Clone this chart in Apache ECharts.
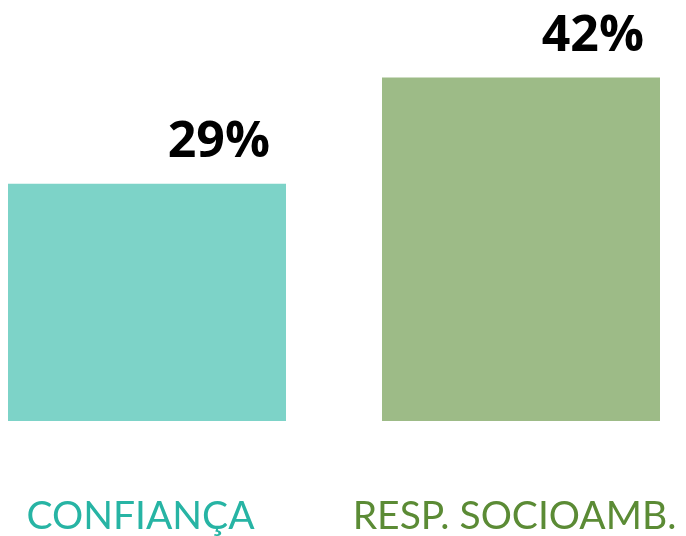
<!DOCTYPE html>
<html>
<head>
<meta charset="utf-8">
<script src="https://cdn.jsdelivr.net/npm/echarts@6/dist/echarts.min.js"></script>
<style>
html,body{margin:0;padding:0;background:#fff;}
#chart{width:686px;height:536px;}
</style>
</head>
<body>
<div id="chart"></div>
<script>
var categories = ['CONFIANÇA', 'RESP. SOCIOAMB.'];
var values = [29, 42];
var barColors = ['#7dd3c8', '#9dbb87'];
var labelColors = ['#27b4a4', '#5b8b35'];

var chart = echarts.init(document.getElementById('chart'));
var option = {
	animation: false,
	grid: {left: -40, right: -22, top: 12, bottom: 115, outerBoundsMode: 'none', containLabel: false},
	xAxis: {
		type: 'category',
		data: categories,
		axisLine: {show: false},
		axisTick: {show: false},
		axisLabel: {
			interval: 0,
			margin: 76,
			fontSize: 39,
			fontFamily: 'Lato',
			padding: [0, 13, 0, 0],
			color: function(val, idx){
				return labelColors[idx];
			}
		}
	},
	yAxis: {
		type: 'value',
		min: 0,
		max: 50,
		show: false
	},
	series: [{
		type: 'bar',
		barWidth: 278,
		data: values.map(function(v, i){
			return {value: v, itemStyle: {color: barColors[i]}};
		}),
		label: {
			show: true,
			position: ['100%', -16],
			offset: [-16, 0],
			align: 'right',
			verticalAlign: 'bottom',
			formatter: '{c}%',
			fontSize: 50,
			fontWeight: 'bold',
			fontFamily: 'Open Sans',
			color: '#000'
		}
	}]
};
chart.setOption(option);
</script>
</body>
</html>
